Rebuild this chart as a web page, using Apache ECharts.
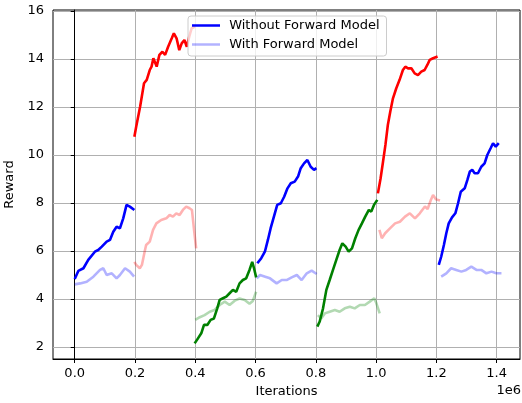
<!DOCTYPE html>
<html>
<head>
<meta charset="utf-8">
<script src="https://cdn.jsdelivr.net/npm/echarts@6/dist/echarts.min.js"></script>
<style>
  html, body { margin: 0; padding: 0; background: #fff; }
  #chart { width: 522px; height: 403px; }
</style>
</head>
<body>
<div id="chart"></div>
<script>
// x in units of 1e6 iterations, y = reward
const xTicks = [0, 0.2, 0.4, 0.6, 0.8, 1.0, 1.2, 1.4];
const yTicks = [2, 4, 6, 8, 10, 12, 14, 16];

const blue1 = [[0.000, 4.83], [0.012, 5.17], [0.029, 5.28], [0.045, 5.63], [0.067, 5.97], [0.078, 6.04], [0.090, 6.18],
  [0.106, 6.39], [0.117, 6.46], [0.128, 6.80], [0.139, 7.01], [0.150, 6.94], [0.161, 7.36], [0.172, 7.92],
  [0.183, 7.85], [0.198, 7.71]];
const lightBlue1 = [[0.000, 4.61], [0.018, 4.65], [0.040, 4.72], [0.062, 4.93], [0.084, 5.21], [0.095, 5.28],
  [0.106, 5.00], [0.123, 5.07], [0.139, 4.86], [0.150, 5.00], [0.167, 5.28], [0.183, 5.14], [0.197, 4.93]];

const red2 = [[0.198, 10.76], [0.204, 11.18], [0.217, 12.01], [0.230, 12.99], [0.239, 13.13], [0.249, 13.54],
  [0.255, 13.68], [0.261, 14.03], [0.272, 13.68], [0.281, 14.17], [0.291, 14.30], [0.300, 14.17], [0.310, 14.51],
  [0.322, 14.86], [0.329, 15.07], [0.338, 14.86], [0.347, 14.37], [0.355, 14.65], [0.364, 14.79], [0.372, 14.51],
  [0.380, 14.93], [0.388, 15.28], [0.399, 15.35]];
const lightRed2 = [[0.198, 5.55], [0.204, 5.42], [0.216, 5.28], [0.223, 5.42], [0.232, 5.97], [0.237, 6.25],
  [0.249, 6.39], [0.260, 6.88], [0.271, 7.15], [0.287, 7.29], [0.304, 7.36], [0.315, 7.50], [0.326, 7.43],
  [0.337, 7.57], [0.348, 7.50], [0.359, 7.71], [0.370, 7.85], [0.381, 7.78], [0.389, 7.71], [0.396, 6.88],
  [0.403, 6.11]];

const green3 = [[0.398, 2.15], [0.409, 2.36], [0.420, 2.57], [0.429, 2.92], [0.440, 2.92], [0.451, 3.13],
  [0.462, 3.19], [0.473, 3.61], [0.481, 3.96], [0.492, 4.03], [0.503, 4.10], [0.514, 4.24], [0.525, 4.38],
  [0.536, 4.30], [0.547, 4.65], [0.558, 4.79], [0.569, 4.86], [0.580, 5.21], [0.589, 5.55], [0.595, 5.28],
  [0.602, 4.90]];
const lightGreen3 = [[0.400, 3.13], [0.415, 3.24], [0.431, 3.33], [0.448, 3.47], [0.464, 3.54], [0.481, 3.75],
  [0.498, 3.89], [0.514, 3.75], [0.531, 3.93], [0.547, 4.02], [0.564, 3.96], [0.580, 3.80], [0.591, 3.92],
  [0.602, 4.30]];

const blue4 = [[0.606, 5.49], [0.619, 5.70], [0.631, 5.97], [0.641, 6.46], [0.650, 6.94], [0.661, 7.43],
  [0.672, 7.92], [0.684, 7.99], [0.695, 8.26], [0.706, 8.61], [0.717, 8.82], [0.730, 8.89], [0.741, 9.10],
  [0.750, 9.45], [0.761, 9.65], [0.772, 9.79], [0.783, 9.51], [0.794, 9.38], [0.802, 9.45]];
const lightBlue4 = [[0.604, 4.86], [0.615, 5.00], [0.632, 4.93], [0.648, 4.86], [0.670, 4.65], [0.687, 4.79],
  [0.703, 4.79], [0.720, 4.90], [0.737, 5.00], [0.753, 4.79], [0.770, 5.07], [0.786, 5.18], [0.803, 5.04]];

const green5 = [[0.805, 2.85], [0.813, 3.06], [0.824, 3.61], [0.835, 4.38], [0.846, 4.79], [0.857, 5.21],
  [0.868, 5.63], [0.879, 6.04], [0.888, 6.32], [0.899, 6.18], [0.909, 5.97], [0.920, 6.11], [0.931, 6.53],
  [0.942, 6.88], [0.953, 7.15], [0.964, 7.43], [0.976, 7.71], [0.984, 7.64], [0.993, 7.92], [1.004, 8.13]];
const lightGreen5 = [[0.807, 3.33], [0.818, 3.19], [0.830, 3.40], [0.846, 3.47], [0.863, 3.54], [0.879, 3.47],
  [0.896, 3.61], [0.913, 3.68], [0.929, 3.61], [0.946, 3.75], [0.963, 3.75], [0.979, 3.89], [0.994, 4.03],
  [1.001, 3.82], [1.012, 3.40]];

const red6 = [[1.006, 8.40], [1.015, 9.03], [1.023, 9.72], [1.031, 10.42], [1.039, 11.25], [1.047, 11.80],
  [1.056, 12.36], [1.067, 12.78], [1.078, 13.13], [1.089, 13.54], [1.097, 13.68], [1.106, 13.61], [1.117, 13.61],
  [1.128, 13.40], [1.139, 13.33], [1.150, 13.47], [1.161, 13.54], [1.170, 13.75], [1.178, 13.96], [1.189, 14.03],
  [1.204, 14.10]];
const lightRed6 = [[1.011, 6.88], [1.019, 6.53], [1.030, 6.74], [1.046, 6.94], [1.063, 7.15], [1.079, 7.22],
  [1.096, 7.43], [1.112, 7.57], [1.129, 7.36], [1.145, 7.57], [1.162, 7.85], [1.171, 7.75], [1.181, 8.10],
  [1.189, 8.33], [1.199, 8.15], [1.212, 8.10]];

const blue7 = [[1.208, 5.42], [1.216, 5.76], [1.225, 6.25], [1.233, 6.74], [1.241, 7.15], [1.252, 7.40],
  [1.263, 7.57], [1.272, 7.99], [1.281, 8.47], [1.294, 8.61], [1.303, 8.96], [1.311, 9.31], [1.319, 9.38],
  [1.327, 9.24], [1.338, 9.24], [1.349, 9.51], [1.360, 9.65], [1.369, 10.00], [1.380, 10.28], [1.388, 10.49],
  [1.397, 10.35], [1.407, 10.49]];
const lightBlue7 = [[1.216, 4.93], [1.233, 5.07], [1.249, 5.28], [1.266, 5.21], [1.283, 5.14], [1.299, 5.21],
  [1.316, 5.35], [1.333, 5.21], [1.349, 5.21], [1.366, 5.07], [1.383, 5.14], [1.399, 5.07], [1.416, 5.07]];

const WITHOUT = 'Without Forward Model';
const WITH = 'With Forward Model';
const FONT = 'DejaVu Sans';

function seriesLine(name, data, color) {
  return {
    name,
    type: 'line',
    data,
    color,
    symbol: 'none',
    showSymbol: false,
    lineStyle: { width: 2.6, color },
    itemStyle: { color },
    emphasis: { disabled: true },
    animation: false
  };
}

const series = [
  // faded "with" runs first so the solid lines sit on top
  seriesLine(WITH, lightBlue1, 'rgba(0,0,255,0.3)'),
  seriesLine('with-red', lightRed2, 'rgba(255,0,0,0.3)'),
  seriesLine('with-green', lightGreen3, 'rgba(0,128,0,0.3)'),
  seriesLine(WITH, lightBlue4, 'rgba(0,0,255,0.3)'),
  seriesLine('with-green', lightGreen5, 'rgba(0,128,0,0.3)'),
  seriesLine('with-red', lightRed6, 'rgba(255,0,0,0.3)'),
  seriesLine(WITH, lightBlue7, 'rgba(0,0,255,0.3)'),
  seriesLine(WITHOUT, blue1, '#0000ff'),
  seriesLine('without-red', red2, '#ff0000'),
  seriesLine('without-green', green3, '#008000'),
  seriesLine(WITHOUT, blue4, '#0000ff'),
  seriesLine('without-green', green5, '#008000'),
  seriesLine('without-red', red6, '#ff0000'),
  seriesLine(WITHOUT, blue7, '#0000ff')
];

const chart = echarts.init(document.getElementById('chart'), null, { renderer: 'canvas' });
chart.setOption({
  backgroundColor: '#fff',
  animation: false,
  textStyle: { fontFamily: FONT },
  grid: {
    left: 53, right: 2, top: 10, bottom: 44,
    outerBoundsMode: 'none',
    containLabel: false,
    show: true, borderColor: '#000', borderWidth: 1, backgroundColor: 'transparent'
  },
  legend: {
    data: [WITHOUT, WITH],
    orient: 'vertical',
    left: 188, top: 16,
    padding: [3, 7, 5, 4],
    itemGap: 6,
    itemWidth: 28,
    itemHeight: 14,
    icon: 'path://M0,0 H28 V2.5 H0 Z',
    formatter: (n) => ' ' + n,
    backgroundColor: 'rgba(255,255,255,0.8)',
    borderColor: '#cccccc',
    borderWidth: 1,
    borderRadius: 3,
    selectedMode: false,
    textStyle: { fontFamily: FONT, fontSize: 13, color: '#000' }
  },
  xAxis: {
    type: 'value',
    min: -0.072, max: 1.4775,
    name: 'Iterations',
    nameLocation: 'middle',
    nameGap: 25,
    nameTextStyle: { fontFamily: FONT, fontSize: 13, color: '#000' },
    axisLine: { show: true, lineStyle: { color: '#000', width: 1 } },
    axisTick: { show: true, length: 4, lineStyle: { color: '#000' }, customValues: xTicks },
    axisLabel: {
      customValues: xTicks, margin: 8, fontFamily: FONT, fontSize: 13, color: '#000',
      formatter: (v) => v.toFixed(1)
    },
    splitLine: { show: true, lineStyle: { color: '#b0b0b0', width: 1 } }
  },
  yAxis: {
    type: 'value',
    min: 1.5, max: 16.04,
    name: 'Reward',
    nameLocation: 'middle',
    nameGap: 27,
    nameTextStyle: { fontFamily: FONT, fontSize: 13, color: '#000' },
    axisLine: { show: true, lineStyle: { color: '#000', width: 1 } },
    axisTick: { show: true, length: 4, lineStyle: { color: '#000' }, customValues: yTicks },
    axisLabel: { customValues: yTicks, margin: 9, fontFamily: FONT, fontSize: 13, color: '#000' },
    splitLine: { show: true, lineStyle: { color: '#b0b0b0', width: 1 } }
  },
  graphic: [{
    type: 'text', right: 1, top: 384,
    style: { text: '1e6', font: '13px "DejaVu Sans"', fill: '#000' }
  }],
  series
});
</script>
</body>
</html>
